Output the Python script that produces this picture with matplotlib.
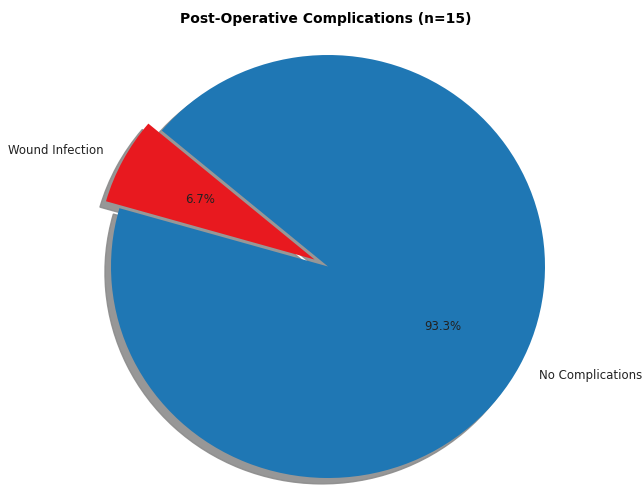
import matplotlib.pyplot as plt

labels = ["Wound Infection", "No Complications"]
counts = [1, 14]
colors = ["#e8191f", "#1f77b4"]
explode = [0.07, 0]

W, H = 644, 486


def main():
    fig = plt.figure(figsize=(W / 100, H / 100), dpi=100)
    # pie centre in px from top-left, slightly wider than tall
    cx, cy = 328, H - 266.5
    rx, ry = 217, 211.5
    ax = fig.add_axes([(cx - 1.25 * rx) / W, (cy - 1.25 * ry) / H,
                       2.5 * rx / W, 2.5 * ry / H])

    ax.pie(counts, labels=labels, colors=colors, explode=explode,
           autopct="%1.1f%%", startangle=140,
           shadow={"ox": -0.02, "oy": -0.02, "facecolor": "0.55",
                   "edgecolor": "0.55", "alpha": 0.9},
           textprops={"fontsize": 8.5, "color": "#222222"})
    ax.set_xlim(-1.25, 1.25)
    ax.set_ylim(-1.25, 1.25)
    ax.set_aspect("auto")
    ax.axis("off")

    fig.text(326 / W, 1 - 19.5 / H, "Post-Operative Complications (n=15)",
             ha="center", va="center", fontsize=10, fontweight="bold")

    fig.savefig("out.png", dpi=100)


if __name__ == '__main__':
    main()
